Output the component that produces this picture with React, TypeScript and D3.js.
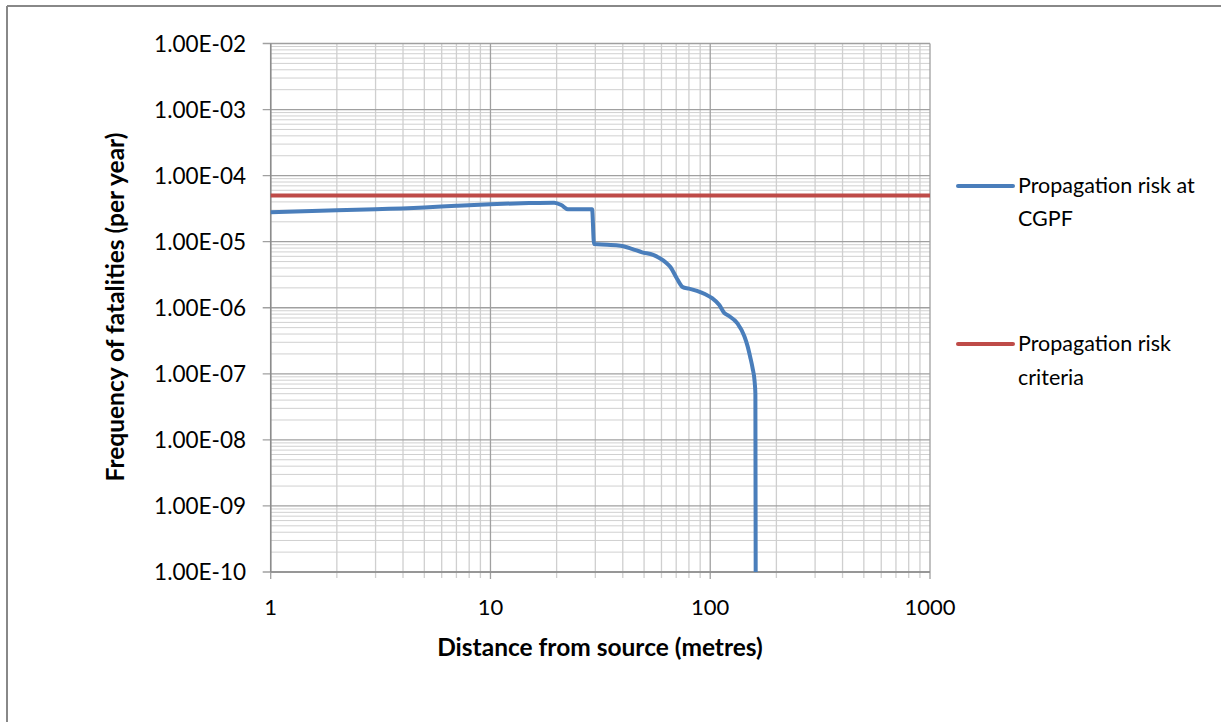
import React from "react";
import * as d3 from "d3";

const distances = [1, 2, 3, 5, 7, 10, 15, 19.5, 21, 22.5, 26, 29, 29.6, 34, 39, 44, 49, 55, 59, 63, 66, 70, 75, 80, 87, 95, 102, 110, 116, 121, 133, 143, 148, 152, 156, 159, 160.5, 161];
const riskCGPF = [2.8e-5, 3.0e-5, 3.1e-5, 3.3e-5, 3.5e-5, 3.7e-5, 3.85e-5, 3.9e-5, 3.6e-5, 3.1e-5, 3.1e-5, 3.1e-5, 9.2e-6, 9.0e-6, 8.7e-6, 7.8e-6, 6.9e-6, 6.3e-6, 5.6e-6, 4.8e-6, 4.1e-6, 2.9e-6, 2.05e-6, 1.95e-6, 1.8e-6, 1.6e-6, 1.4e-6, 1.1e-6, 8.3e-7, 7.6e-7, 5.8e-7, 3.7e-7, 2.6e-7, 1.8e-7, 1.2e-7, 8.0e-8, 5.0e-8, 1e-10];
const criteriaValue = 5e-5;
const xTicks = [1, 10, 100, 1000];
const yTicks = [1e-2, 1e-3, 1e-4, 1e-5, 1e-6, 1e-7, 1e-8, 1e-9, 1e-10];
const seriesNames = ["Propagation risk at CGPF", "Propagation risk criteria"];

const W = 1221, H = 722;
const L = 270.7, R = 930, T = 43.5, B = 572;
const FONT = "Lato, 'Open Sans', sans-serif";
const BLUE = "#4a7ebb";
const RED = "#be4b48";

export default function App() {
  const x = d3.scaleLog().domain([1, 1000]).range([L, R]);
  const y = d3.scaleLog().domain([1e-10, 1e-2]).range([B, T]);

  const minorX: number[] = [];
  for (let e = 0; e < 3; e++) for (let k = 2; k <= 9; k++) minorX.push(k * Math.pow(10, e));
  const minorY: number[] = [];
  for (let e = -10; e < -2; e++) for (let k = 2; k <= 9; k++) minorY.push(k * Math.pow(10, e));

  const pts = distances.map((d, i) => [d, riskCGPF[i]] as [number, number]);
  const line = d3
    .line<[number, number]>()
    .x((d) => x(d[0]))
    .y((d) => y(d[1]))
    .curve(d3.curveMonotoneX);

  const fmt = (v: number) => v.toExponential(2).toUpperCase().replace(/E([+-])(\d)$/, "E$10$2");

  return (
    <svg width={W} height={H} style={{ display: "block", position: "absolute", left: 0, top: 0 }}>
      <rect x={0} y={0} width={W} height={H} fill="#fff" />
      <line x1={7} x2={W} y1={6} y2={6} stroke="#888" strokeWidth={2} />
      <line x1={7} x2={7} y1={6} y2={H} stroke="#888" strokeWidth={2} />
      {/* minor grid */}
      {minorY.map((v) => (
        <line key={"my" + v} x1={L} x2={R} y1={y(v)} y2={y(v)} stroke="#d0d0d0" strokeWidth={1} />
      ))}
      {minorX.map((v) => (
        <line key={"mx" + v} x1={x(v)} x2={x(v)} y1={T} y2={B + 6} stroke="#cfcfcf" strokeWidth={1.3} />
      ))}
      {/* major grid */}
      {yTicks.map((v) => (
        <line key={"gy" + v} x1={L - 8} x2={R} y1={y(v)} y2={y(v)} stroke="#a0a0a0" strokeWidth={1.3} />
      ))}
      {xTicks.map((v) => (
        <line key={"gx" + v} x1={x(v)} x2={x(v)} y1={T} y2={B + 7} stroke="#a0a0a0" strokeWidth={1.3} />
      ))}
      <line x1={L} x2={L} y1={T} y2={B} stroke="#8c8c8c" strokeWidth={1.5} />
      <line x1={L} x2={R} y1={B} y2={B} stroke="#8c8c8c" strokeWidth={1.5} />
      {/* y tick labels */}
      {yTicks.map((v) => (
        <text key={"ty" + v} x={246} y={y(v)} dy="0.36em" textAnchor="end" fontFamily={FONT} fontSize={22.5} fill="#000">
          {fmt(v)}
        </text>
      ))}
      {xTicks.map((v) => (
        <text key={"tx" + v} x={x(v)} y={615} textAnchor="middle" fontFamily={FONT} fontSize={22} fill="#000">
          {v}
        </text>
      ))}
      {/* series */}
      <line x1={L} x2={R} y1={y(criteriaValue)} y2={y(criteriaValue)} stroke={RED} strokeWidth={4} />
      <path d={line(pts) || ""} fill="none" stroke={BLUE} strokeWidth={4} strokeLinejoin="round" />
      {/* axis titles */}
      <text x={600} y={656} textAnchor="middle" fontFamily={FONT} fontWeight="bold" fontSize={24.5} fill="#000">
        Distance from source (metres)
      </text>
      <text transform="translate(124,307) rotate(-90)" textAnchor="middle" fontFamily={FONT} fontWeight="bold" fontSize={24.5} fill="#000">
        Frequency of fatalities (per year)
      </text>
      {/* legend */}
      <line x1={958} x2={1013} y1={186} y2={186} stroke={BLUE} strokeWidth={4} strokeLinecap="round" />
      <text x={1018} y={193} fontFamily={FONT} fontSize={21.5} fill="#000">Propagation risk at</text>
      <text x={1018} y={226} fontFamily={FONT} fontSize={21.5} fill="#000">CGPF</text>
      <line x1={958} x2={1013} y1={344} y2={344} stroke={RED} strokeWidth={4} strokeLinecap="round" />
      <text x={1018} y={351} fontFamily={FONT} fontSize={21.5} fill="#000">Propagation risk</text>
      <text x={1018} y={385} fontFamily={FONT} fontSize={21.5} fill="#000">criteria</text>
      <title>{seriesNames.join(", ")}</title>
    </svg>
  );
}
